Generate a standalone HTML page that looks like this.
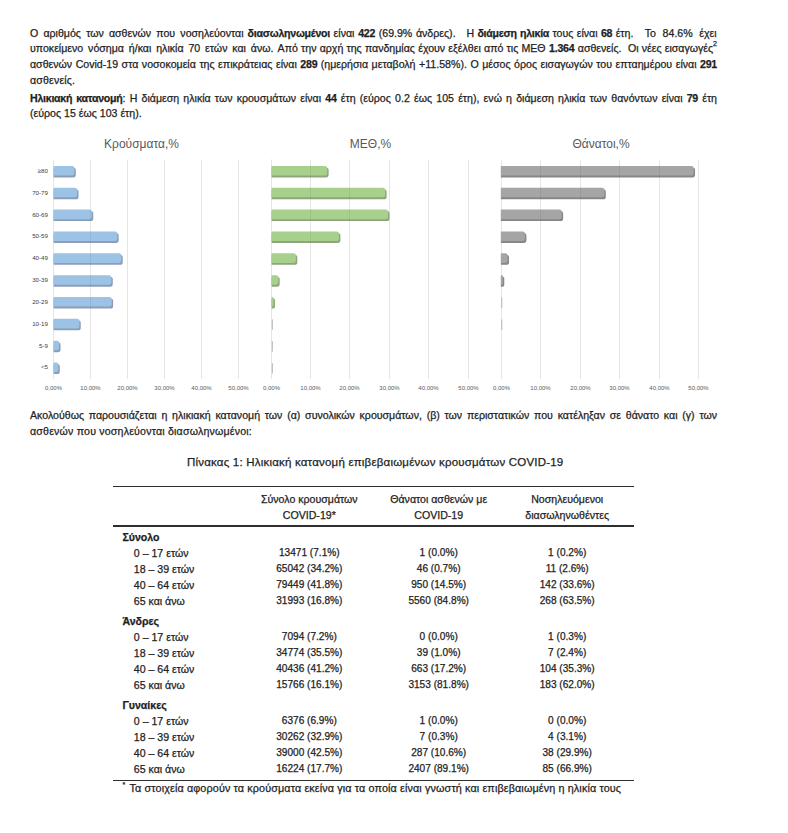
<!DOCTYPE html>
<html><head><meta charset="utf-8">
<style>
html,body{margin:0;padding:0;background:#fff;}
body{width:788px;height:833px;position:relative;overflow:hidden;font-family:"Liberation Sans",sans-serif;color:#1e1e1e;}
.ln{position:absolute;line-height:14px;white-space:nowrap;}
.j{text-align:justify;text-align-last:justify;white-space:normal;}
.t{position:absolute;white-space:nowrap;}
.ln,.t{-webkit-text-stroke:0.25px #1e1e1e;}
.ln b{letter-spacing:-0.25px;}
sup{font-size:7px;line-height:0;vertical-align:6px;}
.rule{position:absolute;left:113px;width:520.5px;background:#2e2e2e;}
</style></head><body>
<div class="ln j" style="top:25.63px;left:30px;width:213.5px;font-size:10.6px;">Ο αριθμός των ασθενών που νοσηλεύονται</div>
<div class="ln j" style="top:25.63px;left:247.6px;width:208px;font-size:10.6px;"><b>διασωληνωμένοι</b> είναι <b>422</b> (69.9% άνδρες).</div>
<div class="ln j" style="top:25.63px;left:466.4px;width:167px;font-size:10.6px;">Η <b>διάμεση ηλικία</b> τους είναι <b>68</b> έτη.</div>
<div class="ln j" style="top:25.63px;left:644.8px;width:71.8px;font-size:10.6px;">Το 84.6% έχει</div>
<div class="ln j" style="top:41.23px;left:30px;width:243.5px;font-size:10.6px;">υποκείμενο νόσημα ή/και ηλικία 70 ετών και άνω.</div>
<div class="ln j" style="top:41.23px;left:277.6px;width:268px;font-size:10.6px;">Από την αρχή της πανδημίας έχουν εξέλθει από τις ΜΕΘ</div>
<div class="ln j" style="top:41.23px;left:549.1px;width:72.4px;font-size:10.6px;"><b>1.364</b> ασθενείς.</div>
<div class="ln j" style="top:41.23px;left:628px;width:89px;font-size:10.6px;">Οι νέες εισαγωγές<sup>2</sup></div>
<div class="ln j" style="top:56.93px;left:30px;width:687px;font-size:10.6px;">ασθενών Covid-19 στα νοσοκομεία της επικράτειας είναι <b>289</b> (ημερήσια μεταβολή +11.58%). Ο μέσος όρος εισαγωγών του επταημέρου είναι <b>291</b></div>
<div class="ln" style="top:73.23px;left:30px;width:687px;font-size:10.6px;letter-spacing:0.17px;">ασθενείς.</div>
<div class="ln j" style="top:90.53px;left:30px;width:687px;font-size:10.6px;"><b>Ηλικιακή κατανομή</b>: Η διάμεση ηλικία των κρουσμάτων είναι <b>44</b> έτη (εύρος 0.2 έως 105 έτη), ενώ η διάμεση ηλικία των θανόντων είναι <b>79</b> έτη</div>
<div class="ln" style="top:105.93px;left:30px;width:687px;font-size:10.6px;">(εύρος 15 έως 103 έτη).</div>
<div class="ln j" style="top:408.13px;left:30px;width:687px;font-size:10.6px;">Ακολούθως παρουσιάζεται η ηλικιακή κατανομή των (α) συνολικών κρουσμάτων, (β) των περιστατικών που κατέληξαν σε θάνατο και (γ) των</div>
<div class="ln" style="top:423.63px;left:30px;width:687px;font-size:10.6px;letter-spacing:0.2px;">ασθενών που νοσηλεύονται διασωληνωμένοι:</div>
<div class="ln" style="top:454.92px;left:187px;width:687px;font-size:11.5px;letter-spacing:0.2px;">Πίνακας 1: Ηλικιακή κατανομή επιβεβαιωμένων κρουσμάτων COVID-19</div>
<svg style="position:absolute;left:0;top:0" width="788" height="400" font-family='"Liberation Sans",sans-serif'><defs><filter id="soft" x="-5%" y="-20%" width="110%" height="140%"><feGaussianBlur stdDeviation="0.3"/></filter><filter id="soft2" x="-5%" y="-30%" width="110%" height="160%"><feGaussianBlur stdDeviation="0.6"/></filter></defs>

<text x="141.5" y="147.6" font-size="12" fill="#595959" text-anchor="middle">Κρούσματα,%</text>
<text x="370.5" y="147.6" font-size="12" fill="#595959" text-anchor="middle">ΜΕΘ,%</text>
<text x="601" y="147.6" font-size="12" fill="#595959" text-anchor="middle">Θάνατοι,%</text>

<line x1="53.5" y1="159.5" x2="53.5" y2="379" stroke="#e5e5e5" stroke-width="1"/>
<line x1="90.5" y1="159.5" x2="90.5" y2="379" stroke="#e5e5e5" stroke-width="1"/>
<line x1="127.5" y1="159.5" x2="127.5" y2="379" stroke="#e5e5e5" stroke-width="1"/>
<line x1="164.5" y1="159.5" x2="164.5" y2="379" stroke="#e5e5e5" stroke-width="1"/>
<line x1="201.5" y1="159.5" x2="201.5" y2="379" stroke="#e5e5e5" stroke-width="1"/>
<line x1="238.5" y1="159.5" x2="238.5" y2="379" stroke="#e5e5e5" stroke-width="1"/>
<g filter="url(#soft2)"><path d="M53.60,167.40H73.19A2.60,2.60 0 0 1 75.79,170.00V174.80A2.60,2.60 0 0 1 73.19,177.40H53.60Z" fill="#8c9db6"/><path d="M53.60,189.25H75.95A2.60,2.60 0 0 1 78.55,191.85V196.65A2.60,2.60 0 0 1 75.95,199.25H53.60Z" fill="#8c9db6"/><path d="M53.60,211.10H90.67A2.60,2.60 0 0 1 93.27,213.70V218.50A2.60,2.60 0 0 1 90.67,221.10H53.60Z" fill="#8c9db6"/><path d="M53.60,232.95H116.06A2.60,2.60 0 0 1 118.66,235.55V240.35A2.60,2.60 0 0 1 116.06,242.95H53.60Z" fill="#8c9db6"/><path d="M53.60,254.80H120.11A2.60,2.60 0 0 1 122.71,257.40V262.20A2.60,2.60 0 0 1 120.11,264.80H53.60Z" fill="#8c9db6"/><path d="M53.60,276.65H110.18A2.60,2.60 0 0 1 112.78,279.25V284.05A2.60,2.60 0 0 1 110.18,286.65H53.60Z" fill="#8c9db6"/><path d="M53.60,298.50H110.54A2.60,2.60 0 0 1 113.14,301.10V305.90A2.60,2.60 0 0 1 110.54,308.50H53.60Z" fill="#8c9db6"/><path d="M53.60,320.35H78.16A2.60,2.60 0 0 1 80.76,322.95V327.75A2.60,2.60 0 0 1 78.16,330.35H53.60Z" fill="#8c9db6"/><path d="M53.60,342.20H57.92A2.60,2.60 0 0 1 60.52,344.80V349.60A2.60,2.60 0 0 1 57.92,352.20H53.60Z" fill="#8c9db6"/><path d="M53.60,364.05H57.18A2.60,2.60 0 0 1 59.78,366.65V371.45A2.60,2.60 0 0 1 57.18,374.05H53.60Z" fill="#8c9db6"/></g>
<g filter="url(#soft)"><path d="M53.60,165.90H72.09A2.30,2.30 0 0 1 74.39,168.20V173.20A2.30,2.30 0 0 1 72.09,175.50H53.60Z" fill="#9cc2e6"/><path d="M53.60,187.75H74.85A2.30,2.30 0 0 1 77.15,190.05V195.05A2.30,2.30 0 0 1 74.85,197.35H53.60Z" fill="#9cc2e6"/><path d="M53.60,209.60H89.57A2.30,2.30 0 0 1 91.87,211.90V216.90A2.30,2.30 0 0 1 89.57,219.20H53.60Z" fill="#9cc2e6"/><path d="M53.60,231.45H114.96A2.30,2.30 0 0 1 117.26,233.75V238.75A2.30,2.30 0 0 1 114.96,241.05H53.60Z" fill="#9cc2e6"/><path d="M53.60,253.30H119.01A2.30,2.30 0 0 1 121.31,255.60V260.60A2.30,2.30 0 0 1 119.01,262.90H53.60Z" fill="#9cc2e6"/><path d="M53.60,275.15H109.08A2.30,2.30 0 0 1 111.38,277.45V282.45A2.30,2.30 0 0 1 109.08,284.75H53.60Z" fill="#9cc2e6"/><path d="M53.60,297.00H109.44A2.30,2.30 0 0 1 111.74,299.30V304.30A2.30,2.30 0 0 1 109.44,306.60H53.60Z" fill="#9cc2e6"/><path d="M53.60,318.85H77.06A2.30,2.30 0 0 1 79.36,321.15V326.15A2.30,2.30 0 0 1 77.06,328.45H53.60Z" fill="#9cc2e6"/><path d="M53.60,340.70H56.82A2.30,2.30 0 0 1 59.12,343.00V348.00A2.30,2.30 0 0 1 56.82,350.30H53.60Z" fill="#9cc2e6"/><path d="M53.60,362.55H56.08A2.30,2.30 0 0 1 58.38,364.85V369.85A2.30,2.30 0 0 1 56.08,372.15H53.60Z" fill="#9cc2e6"/></g>
<line x1="90.5" y1="209.6" x2="90.5" y2="220.8" stroke="#000" stroke-opacity="0.06" stroke-width="1"/>
<line x1="90.5" y1="231.5" x2="90.5" y2="242.7" stroke="#000" stroke-opacity="0.06" stroke-width="1"/>
<line x1="90.5" y1="253.3" x2="90.5" y2="264.5" stroke="#000" stroke-opacity="0.06" stroke-width="1"/>
<line x1="90.5" y1="275.1" x2="90.5" y2="286.3" stroke="#000" stroke-opacity="0.06" stroke-width="1"/>
<line x1="90.5" y1="297.0" x2="90.5" y2="308.2" stroke="#000" stroke-opacity="0.06" stroke-width="1"/>
<text x="53.5" y="389.6" font-size="6" fill="#595959" text-anchor="middle">0,00%</text>
<text x="90.5" y="389.6" font-size="6" fill="#595959" text-anchor="middle">10,00%</text>
<text x="127.5" y="389.6" font-size="6" fill="#595959" text-anchor="middle">20,00%</text>
<text x="164.5" y="389.6" font-size="6" fill="#595959" text-anchor="middle">30,00%</text>
<text x="201.5" y="389.6" font-size="6" fill="#595959" text-anchor="middle">40,00%</text>
<text x="238.5" y="389.6" font-size="6" fill="#595959" text-anchor="middle">50,00%</text>
<text x="48.0" y="172.8" font-size="6.2" fill="#404040" text-anchor="end">≥80</text>
<text x="48.0" y="194.7" font-size="6.2" fill="#404040" text-anchor="end">70-79</text>
<text x="48.0" y="216.5" font-size="6.2" fill="#404040" text-anchor="end">60-69</text>
<text x="48.0" y="238.4" font-size="6.2" fill="#404040" text-anchor="end">50-59</text>
<text x="48.0" y="260.2" font-size="6.2" fill="#404040" text-anchor="end">40-49</text>
<text x="48.0" y="282.0" font-size="6.2" fill="#404040" text-anchor="end">30-39</text>
<text x="48.0" y="303.9" font-size="6.2" fill="#404040" text-anchor="end">20-29</text>
<text x="48.0" y="325.8" font-size="6.2" fill="#404040" text-anchor="end">10-19</text>
<text x="48.0" y="347.6" font-size="6.2" fill="#404040" text-anchor="end">5-9</text>
<text x="48.0" y="369.4" font-size="6.2" fill="#404040" text-anchor="end">&lt;5</text>
<line x1="271.5" y1="159.5" x2="271.5" y2="379" stroke="#e5e5e5" stroke-width="1"/>
<line x1="310.5" y1="159.5" x2="310.5" y2="379" stroke="#e5e5e5" stroke-width="1"/>
<line x1="349.5" y1="159.5" x2="349.5" y2="379" stroke="#e5e5e5" stroke-width="1"/>
<line x1="389.5" y1="159.5" x2="389.5" y2="379" stroke="#e5e5e5" stroke-width="1"/>
<line x1="428.5" y1="159.5" x2="428.5" y2="379" stroke="#e5e5e5" stroke-width="1"/>
<line x1="468.5" y1="159.5" x2="468.5" y2="379" stroke="#e5e5e5" stroke-width="1"/>
<g filter="url(#soft2)"><path d="M271.60,167.40H326.02A2.60,2.60 0 0 1 328.62,170.00V174.80A2.60,2.60 0 0 1 326.02,177.40H271.60Z" fill="#8fa47f"/><path d="M271.60,189.25H383.99A2.60,2.60 0 0 1 386.59,191.85V196.65A2.60,2.60 0 0 1 383.99,199.25H271.60Z" fill="#8fa47f"/><path d="M271.60,211.10H386.93A2.60,2.60 0 0 1 389.53,213.70V218.50A2.60,2.60 0 0 1 386.93,221.10H271.60Z" fill="#8fa47f"/><path d="M271.60,232.95H337.77A2.60,2.60 0 0 1 340.37,235.55V240.35A2.60,2.60 0 0 1 337.77,242.95H271.60Z" fill="#8fa47f"/><path d="M271.60,254.80H294.69A2.60,2.60 0 0 1 297.29,257.40V262.20A2.60,2.60 0 0 1 294.69,264.80H271.60Z" fill="#8fa47f"/><path d="M271.60,276.65H277.06A2.60,2.60 0 0 1 279.66,279.25V284.05A2.60,2.60 0 0 1 277.06,286.65H271.60Z" fill="#8fa47f"/><path d="M271.60,298.50H273.28A1.68,1.68 0 0 1 274.96,300.18V306.82A1.68,1.68 0 0 1 273.28,308.50H271.60Z" fill="#8fa47f"/></g>
<g filter="url(#soft)"><path d="M271.60,165.90H324.92A2.30,2.30 0 0 1 327.22,168.20V173.20A2.30,2.30 0 0 1 324.92,175.50H271.60Z" fill="#a8d08d"/><path d="M271.60,187.75H382.89A2.30,2.30 0 0 1 385.19,190.05V195.05A2.30,2.30 0 0 1 382.89,197.35H271.60Z" fill="#a8d08d"/><path d="M271.60,209.60H385.83A2.30,2.30 0 0 1 388.13,211.90V216.90A2.30,2.30 0 0 1 385.83,219.20H271.60Z" fill="#a8d08d"/><path d="M271.60,231.45H336.67A2.30,2.30 0 0 1 338.97,233.75V238.75A2.30,2.30 0 0 1 336.67,241.05H271.60Z" fill="#a8d08d"/><path d="M271.60,253.30H293.59A2.30,2.30 0 0 1 295.89,255.60V260.60A2.30,2.30 0 0 1 293.59,262.90H271.60Z" fill="#a8d08d"/><path d="M271.60,275.15H275.96A2.30,2.30 0 0 1 278.26,277.45V282.45A2.30,2.30 0 0 1 275.96,284.75H271.60Z" fill="#a8d08d"/><path d="M271.60,297.00H272.58A0.98,0.98 0 0 1 273.56,297.98V305.62A0.98,0.98 0 0 1 272.58,306.60H271.60Z" fill="#a8d08d"/><rect x="271.8" y="319.4" width="1.2" height="10.5" fill="#b8b8b8" opacity="0.85"/><rect x="271.8" y="341.2" width="1.2" height="10.5" fill="#b8b8b8" opacity="0.85"/><rect x="271.8" y="363.1" width="1.2" height="10.5" fill="#b8b8b8" opacity="0.85"/></g>
<line x1="310.5" y1="165.9" x2="310.5" y2="177.1" stroke="#000" stroke-opacity="0.06" stroke-width="1"/>
<line x1="310.5" y1="187.8" x2="310.5" y2="198.9" stroke="#000" stroke-opacity="0.06" stroke-width="1"/>
<line x1="349.5" y1="187.8" x2="349.5" y2="198.9" stroke="#000" stroke-opacity="0.06" stroke-width="1"/>
<line x1="310.5" y1="209.6" x2="310.5" y2="220.8" stroke="#000" stroke-opacity="0.06" stroke-width="1"/>
<line x1="349.5" y1="209.6" x2="349.5" y2="220.8" stroke="#000" stroke-opacity="0.06" stroke-width="1"/>
<line x1="310.5" y1="231.5" x2="310.5" y2="242.7" stroke="#000" stroke-opacity="0.06" stroke-width="1"/>
<text x="271.5" y="389.6" font-size="6" fill="#595959" text-anchor="middle">0,00%</text>
<text x="310.5" y="389.6" font-size="6" fill="#595959" text-anchor="middle">10,00%</text>
<text x="349.5" y="389.6" font-size="6" fill="#595959" text-anchor="middle">20,00%</text>
<text x="389.5" y="389.6" font-size="6" fill="#595959" text-anchor="middle">30,00%</text>
<text x="428.5" y="389.6" font-size="6" fill="#595959" text-anchor="middle">40,00%</text>
<text x="468.5" y="389.6" font-size="6" fill="#595959" text-anchor="middle">50,00%</text>
<line x1="501.5" y1="159.5" x2="501.5" y2="379" stroke="#e5e5e5" stroke-width="1"/>
<line x1="540.5" y1="159.5" x2="540.5" y2="379" stroke="#e5e5e5" stroke-width="1"/>
<line x1="580.5" y1="159.5" x2="580.5" y2="379" stroke="#e5e5e5" stroke-width="1"/>
<line x1="619.5" y1="159.5" x2="619.5" y2="379" stroke="#e5e5e5" stroke-width="1"/>
<line x1="659.5" y1="159.5" x2="659.5" y2="379" stroke="#e5e5e5" stroke-width="1"/>
<line x1="698.5" y1="159.5" x2="698.5" y2="379" stroke="#e5e5e5" stroke-width="1"/>
<g filter="url(#soft2)"><path d="M500.90,167.40H692.46A2.60,2.60 0 0 1 695.06,170.00V174.80A2.60,2.60 0 0 1 692.46,177.40H500.90Z" fill="#878787"/><path d="M500.90,189.25H603.19A2.60,2.60 0 0 1 605.79,191.85V196.65A2.60,2.60 0 0 1 603.19,199.25H500.90Z" fill="#878787"/><path d="M500.90,211.10H560.53A2.60,2.60 0 0 1 563.13,213.70V218.50A2.60,2.60 0 0 1 560.53,221.10H500.90Z" fill="#878787"/><path d="M500.90,232.95H523.79A2.60,2.60 0 0 1 526.39,235.55V240.35A2.60,2.60 0 0 1 523.79,242.95H500.90Z" fill="#878787"/><path d="M500.90,254.80H506.41A2.60,2.60 0 0 1 509.01,257.40V262.20A2.60,2.60 0 0 1 506.41,264.80H500.90Z" fill="#878787"/><path d="M500.90,276.65H502.59A1.69,1.69 0 0 1 504.27,278.34V284.96A1.69,1.69 0 0 1 502.59,286.65H500.90Z" fill="#878787"/></g>
<g filter="url(#soft)"><path d="M500.90,165.90H691.36A2.30,2.30 0 0 1 693.66,168.20V173.20A2.30,2.30 0 0 1 691.36,175.50H500.90Z" fill="#a5a5a5"/><path d="M500.90,187.75H602.09A2.30,2.30 0 0 1 604.39,190.05V195.05A2.30,2.30 0 0 1 602.09,197.35H500.90Z" fill="#a5a5a5"/><path d="M500.90,209.60H559.43A2.30,2.30 0 0 1 561.73,211.90V216.90A2.30,2.30 0 0 1 559.43,219.20H500.90Z" fill="#a5a5a5"/><path d="M500.90,231.45H522.70A2.30,2.30 0 0 1 525.00,233.75V238.75A2.30,2.30 0 0 1 522.70,241.05H500.90Z" fill="#a5a5a5"/><path d="M500.90,253.30H505.31A2.30,2.30 0 0 1 507.61,255.60V260.60A2.30,2.30 0 0 1 505.31,262.90H500.90Z" fill="#a5a5a5"/><path d="M500.90,275.15H501.89A0.99,0.99 0 0 1 502.88,276.14V283.76A0.99,0.99 0 0 1 501.89,284.75H500.90Z" fill="#a5a5a5"/><rect x="501.1" y="297.5" width="1.2" height="10.5" fill="#b8b8b8" opacity="0.85"/><rect x="501.1" y="319.4" width="1.2" height="10.5" fill="#b8b8b8" opacity="0.85"/></g>
<line x1="540.5" y1="165.9" x2="540.5" y2="177.1" stroke="#000" stroke-opacity="0.06" stroke-width="1"/>
<line x1="580.5" y1="165.9" x2="580.5" y2="177.1" stroke="#000" stroke-opacity="0.06" stroke-width="1"/>
<line x1="619.5" y1="165.9" x2="619.5" y2="177.1" stroke="#000" stroke-opacity="0.06" stroke-width="1"/>
<line x1="659.5" y1="165.9" x2="659.5" y2="177.1" stroke="#000" stroke-opacity="0.06" stroke-width="1"/>
<line x1="540.5" y1="187.8" x2="540.5" y2="198.9" stroke="#000" stroke-opacity="0.06" stroke-width="1"/>
<line x1="580.5" y1="187.8" x2="580.5" y2="198.9" stroke="#000" stroke-opacity="0.06" stroke-width="1"/>
<line x1="540.5" y1="209.6" x2="540.5" y2="220.8" stroke="#000" stroke-opacity="0.06" stroke-width="1"/>
<text x="501.5" y="389.6" font-size="6" fill="#595959" text-anchor="middle">0,00%</text>
<text x="540.5" y="389.6" font-size="6" fill="#595959" text-anchor="middle">10,00%</text>
<text x="580.5" y="389.6" font-size="6" fill="#595959" text-anchor="middle">20,00%</text>
<text x="619.5" y="389.6" font-size="6" fill="#595959" text-anchor="middle">30,00%</text>
<text x="659.5" y="389.6" font-size="6" fill="#595959" text-anchor="middle">40,00%</text>
<text x="698.5" y="389.6" font-size="6" fill="#595959" text-anchor="middle">50,00%</text>
</svg>
<div class="rule" style="top:486px;height:1.1px"></div>
<div class="rule" style="top:525.4px;height:1.2px"></div>
<div class="rule" style="top:779.5px;height:1.15px"></div>
<div class="t" style="top:491.63px;font-size:10.6px;line-height:14px;left:209.30px;width:200px;text-align:center;">Σύνολο κρουσμάτων</div>
<div class="t" style="top:507.73px;font-size:10.6px;line-height:14px;left:209.30px;width:200px;text-align:center;">COVID-19*</div>
<div class="t" style="top:491.63px;font-size:10.6px;line-height:14px;left:338.70px;width:200px;text-align:center;">Θάνατοι ασθενών με</div>
<div class="t" style="top:507.73px;font-size:10.6px;line-height:14px;left:338.70px;width:200px;text-align:center;">COVID-19</div>
<div class="t" style="top:491.63px;font-size:10.6px;line-height:14px;left:467.20px;width:200px;text-align:center;">Νοσηλευόμενοι</div>
<div class="t" style="top:507.73px;font-size:10.6px;line-height:14px;left:467.20px;width:200px;text-align:center;">διασωληνωθέντες</div>
<div class="t" style="top:530.23px;font-size:10.6px;line-height:14px;left:122.40px;font-weight:bold;">Σύνολο</div>
<div class="t" style="top:546.23px;font-size:10.6px;line-height:14px;left:133.80px;">0 – 17 ετών</div>
<div class="t" style="top:546.40px;font-size:10.1px;line-height:14px;left:209.30px;width:200px;text-align:center;">13471 (7.1%)</div>
<div class="t" style="top:546.40px;font-size:10.1px;line-height:14px;left:338.70px;width:200px;text-align:center;">1 (0.0%)</div>
<div class="t" style="top:546.40px;font-size:10.1px;line-height:14px;left:467.20px;width:200px;text-align:center;">1 (0.2%)</div>
<div class="t" style="top:562.23px;font-size:10.6px;line-height:14px;left:133.80px;">18 – 39 ετών</div>
<div class="t" style="top:562.40px;font-size:10.1px;line-height:14px;left:209.30px;width:200px;text-align:center;">65042 (34.2%)</div>
<div class="t" style="top:562.40px;font-size:10.1px;line-height:14px;left:338.70px;width:200px;text-align:center;">46 (0.7%)</div>
<div class="t" style="top:562.40px;font-size:10.1px;line-height:14px;left:467.20px;width:200px;text-align:center;">11 (2.6%)</div>
<div class="t" style="top:578.23px;font-size:10.6px;line-height:14px;left:133.80px;">40 – 64 ετών</div>
<div class="t" style="top:578.40px;font-size:10.1px;line-height:14px;left:209.30px;width:200px;text-align:center;">79449 (41.8%)</div>
<div class="t" style="top:578.40px;font-size:10.1px;line-height:14px;left:338.70px;width:200px;text-align:center;">950 (14.5%)</div>
<div class="t" style="top:578.40px;font-size:10.1px;line-height:14px;left:467.20px;width:200px;text-align:center;">142 (33.6%)</div>
<div class="t" style="top:594.23px;font-size:10.6px;line-height:14px;left:133.80px;">65 και άνω</div>
<div class="t" style="top:594.40px;font-size:10.1px;line-height:14px;left:209.30px;width:200px;text-align:center;">31993 (16.8%)</div>
<div class="t" style="top:594.40px;font-size:10.1px;line-height:14px;left:338.70px;width:200px;text-align:center;">5560 (84.8%)</div>
<div class="t" style="top:594.40px;font-size:10.1px;line-height:14px;left:467.20px;width:200px;text-align:center;">268 (63.5%)</div>
<div class="t" style="top:614.13px;font-size:10.6px;line-height:14px;left:122.40px;font-weight:bold;">Άνδρες</div>
<div class="t" style="top:630.13px;font-size:10.6px;line-height:14px;left:133.80px;">0 – 17 ετών</div>
<div class="t" style="top:630.30px;font-size:10.1px;line-height:14px;left:209.30px;width:200px;text-align:center;">7094 (7.2%)</div>
<div class="t" style="top:630.30px;font-size:10.1px;line-height:14px;left:338.70px;width:200px;text-align:center;">0 (0.0%)</div>
<div class="t" style="top:630.30px;font-size:10.1px;line-height:14px;left:467.20px;width:200px;text-align:center;">1 (0.3%)</div>
<div class="t" style="top:646.13px;font-size:10.6px;line-height:14px;left:133.80px;">18 – 39 ετών</div>
<div class="t" style="top:646.30px;font-size:10.1px;line-height:14px;left:209.30px;width:200px;text-align:center;">34774 (35.5%)</div>
<div class="t" style="top:646.30px;font-size:10.1px;line-height:14px;left:338.70px;width:200px;text-align:center;">39 (1.0%)</div>
<div class="t" style="top:646.30px;font-size:10.1px;line-height:14px;left:467.20px;width:200px;text-align:center;">7 (2.4%)</div>
<div class="t" style="top:662.13px;font-size:10.6px;line-height:14px;left:133.80px;">40 – 64 ετών</div>
<div class="t" style="top:662.30px;font-size:10.1px;line-height:14px;left:209.30px;width:200px;text-align:center;">40436 (41.2%)</div>
<div class="t" style="top:662.30px;font-size:10.1px;line-height:14px;left:338.70px;width:200px;text-align:center;">663 (17.2%)</div>
<div class="t" style="top:662.30px;font-size:10.1px;line-height:14px;left:467.20px;width:200px;text-align:center;">104 (35.3%)</div>
<div class="t" style="top:678.13px;font-size:10.6px;line-height:14px;left:133.80px;">65 και άνω</div>
<div class="t" style="top:678.30px;font-size:10.1px;line-height:14px;left:209.30px;width:200px;text-align:center;">15766 (16.1%)</div>
<div class="t" style="top:678.30px;font-size:10.1px;line-height:14px;left:338.70px;width:200px;text-align:center;">3153 (81.8%)</div>
<div class="t" style="top:678.30px;font-size:10.1px;line-height:14px;left:467.20px;width:200px;text-align:center;">183 (62.0%)</div>
<div class="t" style="top:697.53px;font-size:10.6px;line-height:14px;left:122.40px;font-weight:bold;">Γυναίκες</div>
<div class="t" style="top:713.53px;font-size:10.6px;line-height:14px;left:133.80px;">0 – 17 ετών</div>
<div class="t" style="top:713.70px;font-size:10.1px;line-height:14px;left:209.30px;width:200px;text-align:center;">6376 (6.9%)</div>
<div class="t" style="top:713.70px;font-size:10.1px;line-height:14px;left:338.70px;width:200px;text-align:center;">1 (0.0%)</div>
<div class="t" style="top:713.70px;font-size:10.1px;line-height:14px;left:467.20px;width:200px;text-align:center;">0 (0.0%)</div>
<div class="t" style="top:729.53px;font-size:10.6px;line-height:14px;left:133.80px;">18 – 39 ετών</div>
<div class="t" style="top:729.70px;font-size:10.1px;line-height:14px;left:209.30px;width:200px;text-align:center;">30262 (32.9%)</div>
<div class="t" style="top:729.70px;font-size:10.1px;line-height:14px;left:338.70px;width:200px;text-align:center;">7 (0.3%)</div>
<div class="t" style="top:729.70px;font-size:10.1px;line-height:14px;left:467.20px;width:200px;text-align:center;">4 (3.1%)</div>
<div class="t" style="top:745.53px;font-size:10.6px;line-height:14px;left:133.80px;">40 – 64 ετών</div>
<div class="t" style="top:745.70px;font-size:10.1px;line-height:14px;left:209.30px;width:200px;text-align:center;">39000 (42.5%)</div>
<div class="t" style="top:745.70px;font-size:10.1px;line-height:14px;left:338.70px;width:200px;text-align:center;">287 (10.6%)</div>
<div class="t" style="top:745.70px;font-size:10.1px;line-height:14px;left:467.20px;width:200px;text-align:center;">38 (29.9%)</div>
<div class="t" style="top:761.53px;font-size:10.6px;line-height:14px;left:133.80px;">65 και άνω</div>
<div class="t" style="top:761.70px;font-size:10.1px;line-height:14px;left:209.30px;width:200px;text-align:center;">16224 (17.7%)</div>
<div class="t" style="top:761.70px;font-size:10.1px;line-height:14px;left:338.70px;width:200px;text-align:center;">2407 (89.1%)</div>
<div class="t" style="top:761.70px;font-size:10.1px;line-height:14px;left:467.20px;width:200px;text-align:center;">85 (66.9%)</div>
<div class="t" style="top:778.07px;font-size:7px;line-height:14px;left:122.60px;">*</div><div class="t" style="top:780.96px;font-size:10.8px;line-height:14px;left:129.50px;letter-spacing:0.12px;">Τα στοιχεία αφορούν τα κρούσματα εκείνα για τα οποία είναι γνωστή και επιβεβαιωμένη η ηλικία τους</div>
</body></html>
